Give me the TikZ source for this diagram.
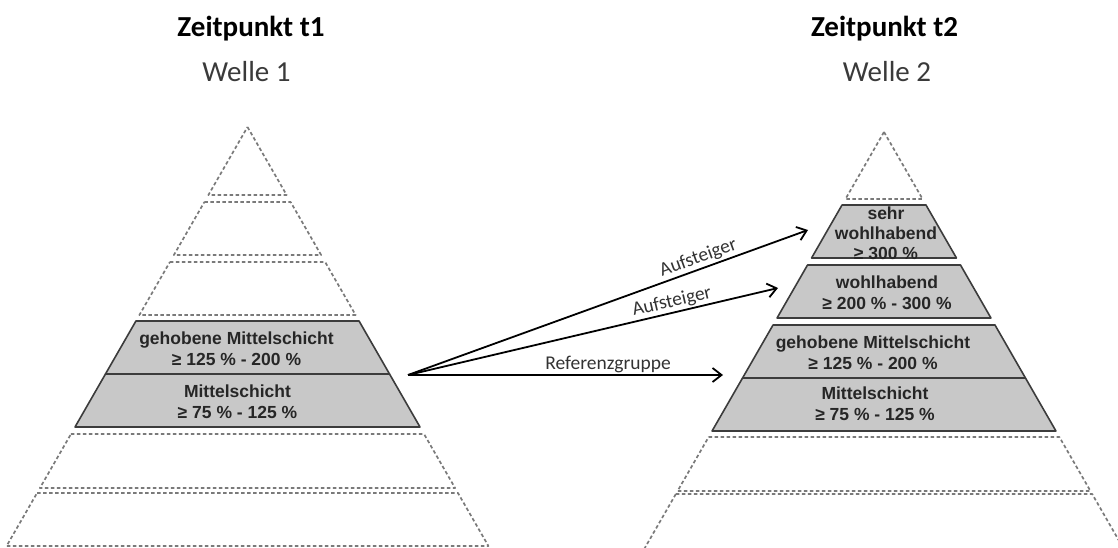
\documentclass[tikz,border=0pt]{standalone}
\usepackage{fontspec}
\setmainfont{Carlito}
\newfontfamily\bandfont{Liberation Sans}
\usetikzlibrary{arrows.meta}

\definecolor{bandgray}{HTML}{C8C8C8}
\definecolor{bandline}{HTML}{3C3C3C}
\definecolor{dashgray}{HTML}{7A7A7A}
\definecolor{labelgray}{HTML}{333333}
\definecolor{wellegray}{HTML}{3A3A3A}

% one layer of a pyramid: style, centre x, apex y, top y, bottom y
\newcommand{\pyrlayer}[5]{%
  \pgfmathsetmacro\lyrTop{0.575*(#4-#3)}%
  \pgfmathsetmacro\lyrBot{0.575*(#5-#3)}%
  \draw[#1] ({#2-\lyrTop},#4) -- ({#2+\lyrTop},#4) -- ({#2+\lyrBot},#5) -- ({#2-\lyrBot},#5) -- cycle;%
}

\tikzset{
  emptylayer/.style={draw=dashgray, line width=1.7pt, dash pattern=on 3.5pt off 2.5pt, line join=round},
  shadedlayer/.style={draw=bandline, line width=1.6pt, fill=bandgray, line join=round},
  bandtext/.style={font=\bandfont\bfseries\fontsize{17.5}{21}\selectfont, text=black!85, align=center, inner sep=0pt},
  titletext/.style={font=\bfseries\fontsize{29}{32}\selectfont, anchor=base, inner sep=0pt},
  wavetext/.style={font=\fontsize{29}{32}\selectfont, text=wellegray, anchor=base, inner sep=0pt},
  flow/.style={line width=1.8pt, -{Straight Barb[length=9pt, width=14pt, line width=1.8pt]}},
  flowlabel/.style={font=\fontsize{19.5}{22}\selectfont, text=labelgray, inner sep=1.5pt}
}

\begin{document}
\begin{tikzpicture}[x=1pt, y=-1pt]
\useasboundingbox (0,0) rectangle (1118,548);
\clip (0,0) rectangle (1118,548);

% headings
\node[titletext] (t1) at (251,37) {Zeitpunkt t1};
\node[wavetext] (w1) at (246.5,82) {Welle 1};
\node[titletext] (t2) at (884.5,37) {Zeitpunkt t2};
\node[wavetext] (w2) at (887,82) {Welle 2};

% left pyramid (wave 1)
\pyrlayer{emptylayer}{247.5}{127}{127}{195}
\pyrlayer{emptylayer}{247.5}{127}{202}{255}
\pyrlayer{emptylayer}{247.5}{127}{262}{315}
\pyrlayer{shadedlayer}{247.5}{127}{321}{374}
\pyrlayer{shadedlayer}{247.5}{127}{374}{427}
\pyrlayer{emptylayer}{247.5}{127}{434}{488}
\pyrlayer{emptylayer}{247.5}{127}{493}{546}

\node[bandtext] (l-geh) at (236.5,349) {gehobene Mittelschicht\\≥ 125 \% - 200 \%};
\node[bandtext] (l-mit) at (237.5,402) {Mittelschicht\\≥ 75 \% - 125 \%};

% right pyramid (wave 2)
\pyrlayer{emptylayer}{884}{132}{132}{199}
\pyrlayer{shadedlayer}{884}{132}{205}{258}
\pyrlayer{shadedlayer}{884}{132}{265}{318}
\pyrlayer{shadedlayer}{884}{132}{325}{378}
\pyrlayer{shadedlayer}{884}{132}{378}{431}
\pyrlayer{emptylayer}{884}{132}{437}{491}
\pyrlayer{emptylayer}{884}{132}{494}{551}

\node[bandtext, font=\bandfont\bfseries\fontsize{17.5}{20}\selectfont] (r-sw) at (886,233) {sehr\\wohlhabend\\≥ 300 \%};
\node[bandtext] (r-wh) at (887,292.5) {wohlhabend\\≥ 200 \% - 300 \%};
\node[bandtext] (r-geh) at (873,352.5) {gehobene Mittelschicht\\≥ 125 \% - 200 \%};
\node[bandtext] (r-mit) at (875,404) {Mittelschicht\\≥ 75 \% - 125 \%};

% transitions between the waves
\coordinate (src) at (408,375);
\coordinate (to-sw) at (808,230);
\coordinate (to-wh) at (778,288);
\coordinate (to-ref) at (723,375);

\draw[flow] (src) -- node[flowlabel, above, sloped, pos=0.735] {Aufsteiger} (to-sw);
\draw[flow] (src) -- node[flowlabel, above, sloped, pos=0.72] {Aufsteiger} (to-wh);
\draw[flow] (src) -- node[flowlabel, above, pos=0.635] {Referenzgruppe} (to-ref);
\end{tikzpicture}
\end{document}
